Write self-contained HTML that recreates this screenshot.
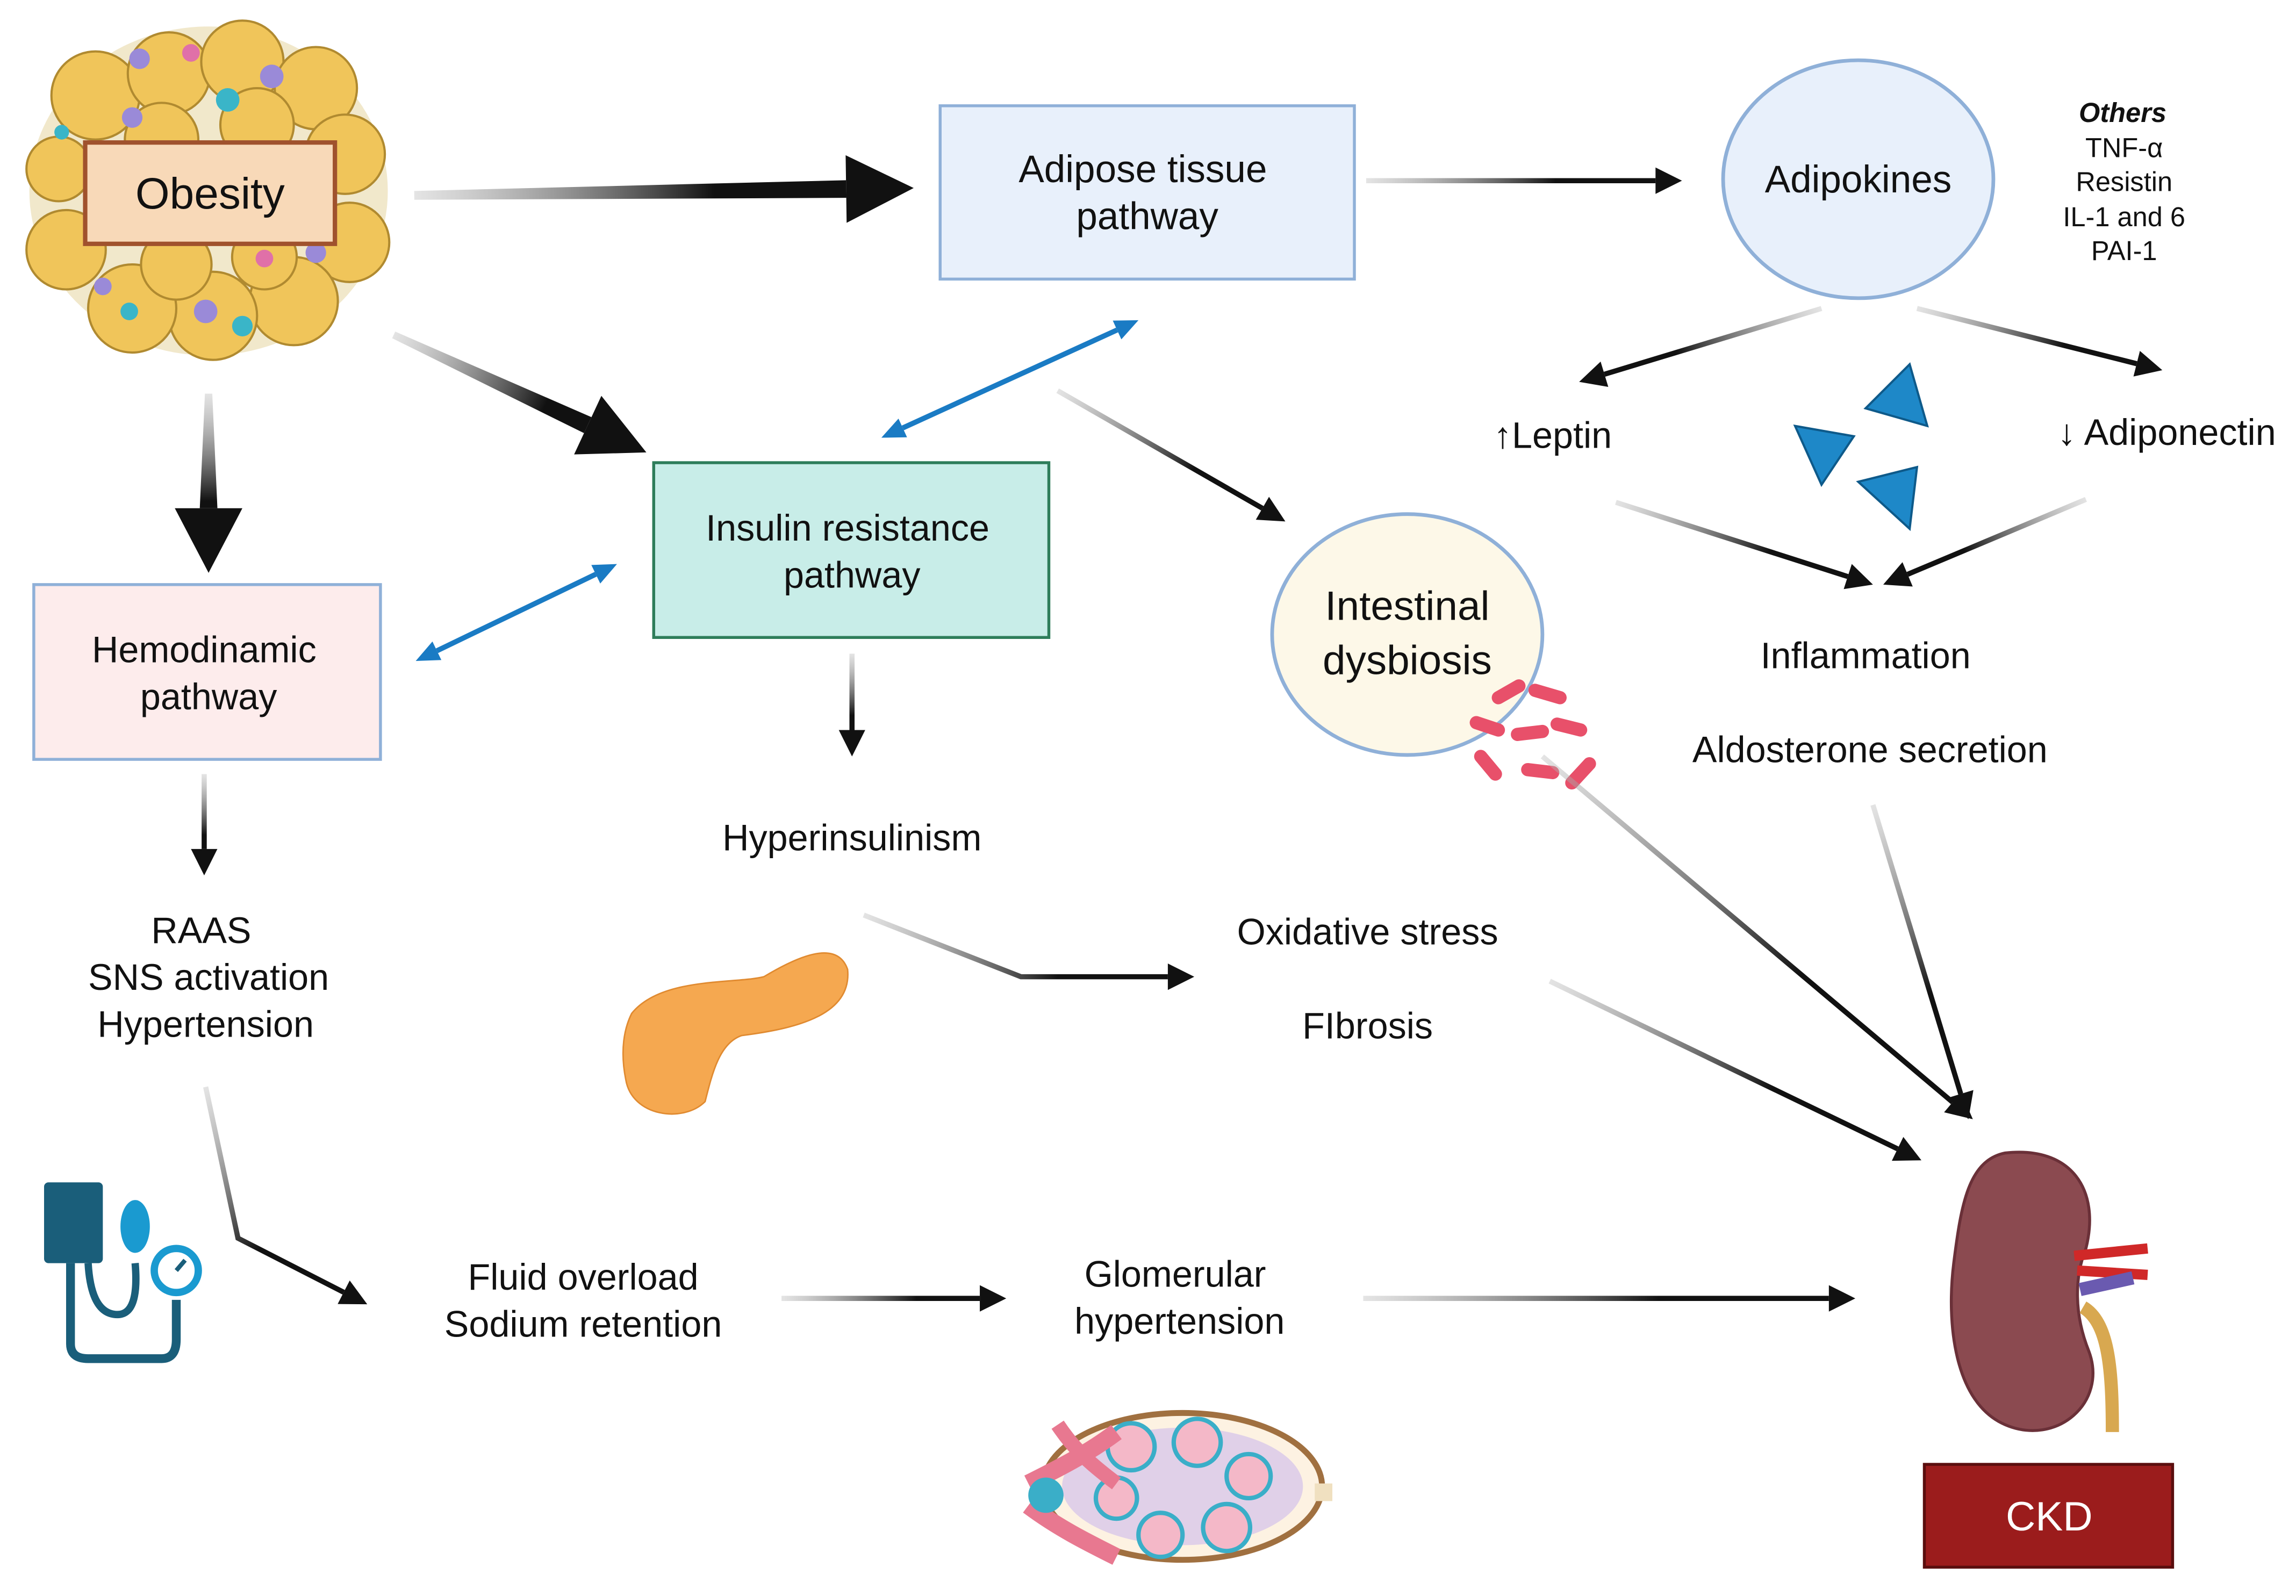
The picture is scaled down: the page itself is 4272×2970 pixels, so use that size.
<!DOCTYPE html>
<html><head><meta charset="utf-8">
<style>
html,body{margin:0;padding:0;background:#fff;}
svg{display:block;}
text{font-family:"Liberation Sans","DejaVu Sans",sans-serif;fill:#111;}
</style></head>
<body>
<svg id="s" width="4272" height="2970" viewBox="0 0 1563 1086.6" xmlns="http://www.w3.org/2000/svg">
<defs id="d"></defs>
<rect width="1563" height="1087" fill="#fff"/>

<!-- Obesity cluster -->
<g>
<ellipse cx="142" cy="130" rx="122" ry="112" fill="#e8d9a8" opacity="0.6"/>
<g fill="#f0c55a" stroke="#b08a30" stroke-width="1.5">
<circle cx="65" cy="65" r="30"/><circle cx="115" cy="50" r="28"/><circle cx="165" cy="42" r="28"/><circle cx="215" cy="60" r="28"/>
<circle cx="235" cy="105" r="27"/><circle cx="238" cy="165" r="27"/><circle cx="200" cy="205" r="30"/><circle cx="145" cy="215" r="30"/>
<circle cx="90" cy="210" r="30"/><circle cx="45" cy="170" r="27"/><circle cx="40" cy="115" r="22"/><circle cx="175" cy="85" r="25"/><circle cx="110" cy="95" r="25"/>
<circle cx="120" cy="180" r="24"/><circle cx="180" cy="175" r="22"/>
</g>
<g fill="#9a8ad8"><circle cx="95" cy="40" r="7"/><circle cx="185" cy="52" r="8"/><circle cx="90" cy="80" r="7"/><circle cx="140" cy="212" r="8"/><circle cx="215" cy="172" r="7"/><circle cx="70" cy="195" r="6"/></g>
<g fill="#3ab5c8"><circle cx="155" cy="68" r="8"/><circle cx="165" cy="222" r="7"/><circle cx="42" cy="90" r="5"/><circle cx="88" cy="212" r="6"/></g>
<g fill="#e070a8"><circle cx="130" cy="36" r="6"/><circle cx="180" cy="176" r="6"/></g>
<rect x="58" y="97" width="170" height="69" fill="#f8d9b8" stroke="#a0522d" stroke-width="3"/>
<text x="143" y="142" font-size="30" text-anchor="middle">Obesity</text>
</g>

<!-- Adipose tissue -->
<rect x="640" y="72" width="282" height="118" fill="#e8f0fb" stroke="#8fb0d8" stroke-width="2"/>
<text x="778" y="124" font-size="26" text-anchor="middle">Adipose tissue</text>
<text x="781" y="156" font-size="26" text-anchor="middle">pathway</text>

<!-- Adipokines -->
<ellipse cx="1265" cy="122" rx="92" ry="81" fill="#e8f0fb" stroke="#8fb0d8" stroke-width="2.5"/>
<text x="1265" y="131" font-size="26" text-anchor="middle">Adipokines</text>
<g font-size="18.5" text-anchor="middle">
<text x="1445" y="83" font-weight="bold" font-style="italic">Others</text>
<text x="1446" y="107">TNF-α</text>
<text x="1446" y="130">Resistin</text>
<text x="1446" y="154">IL-1 and 6</text>
<text x="1446" y="177">PAI-1</text>
</g>

<!-- Insulin resistance -->
<rect x="445" y="315" width="269" height="119" fill="#c8ede8" stroke="#2e7d5a" stroke-width="2"/>
<text x="577" y="368" font-size="25" text-anchor="middle">Insulin resistance</text>
<text x="580" y="400" font-size="25" text-anchor="middle">pathway</text>

<!-- Hemodinamic -->
<rect x="23" y="398" width="236" height="119" fill="#fdecec" stroke="#8fb0d8" stroke-width="2"/>
<text x="139" y="451" font-size="25" text-anchor="middle">Hemodinamic</text>
<text x="142" y="483" font-size="25" text-anchor="middle">pathway</text>

<!-- Intestinal dysbiosis -->
<ellipse cx="958" cy="432" rx="92" ry="82" fill="#fdf8e8" stroke="#8fb0d8" stroke-width="2.5"/>
<text x="958" y="422" font-size="28" text-anchor="middle">Intestinal</text>
<text x="958" y="459" font-size="28" text-anchor="middle">dysbiosis</text>
<g stroke="#e8506a" stroke-width="9" stroke-linecap="round">
<line x1="1020" y1="475" x2="1034" y2="467"/><line x1="1045" y1="470" x2="1062" y2="475"/><line x1="1005" y1="492" x2="1020" y2="497"/>
<line x1="1033" y1="500" x2="1050" y2="498"/><line x1="1060" y1="493" x2="1076" y2="497"/><line x1="1008" y1="515" x2="1018" y2="527"/>
<line x1="1040" y1="524" x2="1057" y2="526"/><line x1="1070" y1="533" x2="1082" y2="520"/>
</g>

<!-- Leptin etc -->
<text x="1057" y="305" font-size="25" text-anchor="middle">↑Leptin</text>
<text x="1475" y="303" font-size="25" text-anchor="middle">↓ Adiponectin</text>
<g fill="#1e88c8" stroke="#0e5a8a" stroke-width="1.5">
<polygon points="1270,278 1300,248 1312,290"/>
<polygon points="1222,290 1262,297 1240,330"/>
<polygon points="1265,328 1305,318 1300,360"/>
</g>
<text x="1270" y="455" font-size="25" text-anchor="middle">Inflammation</text>
<text x="1273" y="519" font-size="25" text-anchor="middle">Aldosterone secretion</text>

<text x="580" y="579" font-size="25" text-anchor="middle">Hyperinsulinism</text>
<text x="931" y="643" font-size="25" text-anchor="middle">Oxidative stress</text>
<text x="931" y="707" font-size="25" text-anchor="middle">FIbrosis</text>

<text x="137" y="642" font-size="25" text-anchor="middle">RAAS</text>
<text x="142" y="674" font-size="25" text-anchor="middle">SNS activation</text>
<text x="140" y="706" font-size="25" text-anchor="middle">Hypertension</text>

<text x="397" y="878" font-size="25" text-anchor="middle">Fluid overload</text>
<text x="397" y="910" font-size="25" text-anchor="middle">Sodium retention</text>
<text x="800" y="876" font-size="25" text-anchor="middle">Glomerular</text>
<text x="803" y="908" font-size="25" text-anchor="middle">hypertension</text>

<!-- Pancreas -->
<path d="M430,690 C450,665 500,670 520,665 C545,650 570,640 577,660 C580,690 545,700 505,705 C490,710 485,730 480,750 C465,765 430,760 426,735 C422,715 425,700 430,690 Z" fill="#f5a850" stroke="#e08a30" stroke-width="1"/>

<!-- Blood pressure icon -->
<g>
<rect x="30" y="805" width="40" height="55" rx="3" fill="#1a5e7a"/>
<path d="M48,860 L48,915 Q48,925 60,925 L110,925 Q120,925 120,912 L120,885" fill="none" stroke="#1a5e7a" stroke-width="6"/>
<path d="M60,860 Q62,895 80,895 Q95,895 92,860" fill="none" stroke="#1a5e7a" stroke-width="5"/>
<ellipse cx="92" cy="835" rx="10" ry="18" fill="#1a9ad0"/>
<circle cx="120" cy="865" r="15" fill="#fff" stroke="#1a9ad0" stroke-width="5"/>
<line x1="120" y1="865" x2="126" y2="858" stroke="#1a5e7a" stroke-width="3"/>
</g>

<!-- Glomerulus -->
<g>
<ellipse cx="805" cy="1012" rx="95" ry="50" fill="#fdf2e2" stroke="#a07040" stroke-width="4"/>
<ellipse cx="805" cy="1012" rx="82" ry="40" fill="#e0d0e8"/>
<g fill="#f4b8c8" stroke="#3aaec8" stroke-width="3">
<circle cx="770" cy="985" r="16"/><circle cx="815" cy="982" r="16"/><circle cx="850" cy="1005" r="15"/><circle cx="835" cy="1040" r="16"/><circle cx="790" cy="1045" r="15"/><circle cx="760" cy="1020" r="14"/>
</g>
<path d="M700,1010 C720,1000 740,990 760,975 M700,1025 C720,1040 740,1050 760,1060" stroke="#e87890" stroke-width="12" fill="none"/>
<path d="M720,970 C730,985 740,995 760,1010" stroke="#e87890" stroke-width="10" fill="none"/>
<circle cx="712" cy="1018" r="12" fill="#3aaec8"/>
<rect x="895" y="1010" width="12" height="12" fill="#f0e0c0"/>
</g>

<!-- Kidney -->
<g>
<path d="M1365,785 C1410,780 1430,810 1420,850 C1412,870 1412,895 1422,920 C1435,955 1400,985 1365,970 C1330,955 1325,900 1330,860 C1335,820 1340,790 1365,785 Z" fill="#8b4a50" stroke="#6a3038" stroke-width="2"/>
<path d="M1412,855 L1462,850 M1414,865 L1462,868" stroke="#d02828" stroke-width="7"/>
<path d="M1416,878 L1452,870" stroke="#6a5ab0" stroke-width="9"/>
<path d="M1418,890 C1435,900 1438,930 1438,975" stroke="#d8a850" stroke-width="9" fill="none"/>
</g>

<!-- CKD -->
<rect x="1310" y="997" width="169" height="70" fill="#9b1c1c" stroke="#5a0e0e" stroke-width="2"/>
<text x="1395" y="1042" font-size="28" text-anchor="middle" style="fill:#fff">CKD</text>

<g id="arrows"></g>
</svg>
<script>
const NS="http://www.w3.org/2000/svg";
const defs=document.getElementById('d'), g=document.getElementById('arrows');
let n=0;
function el(t,a){const e=document.createElementNS(NS,t);for(const k in a)e.setAttribute(k,a[k]);return e;}
function grad(x1,y1,x2,y2){const id='g'+(n++);const lg=el('linearGradient',{id,gradientUnits:'userSpaceOnUse',x1,y1,x2,y2});
lg.appendChild(el('stop',{offset:'0','stop-color':'#bbb','stop-opacity':'0.4'}));
lg.appendChild(el('stop',{offset:'0.6','stop-color':'#111'}));
lg.appendChild(el('stop',{offset:'1','stop-color':'#111'}));defs.appendChild(lg);return 'url(#'+id+')';}
function head(x,y,dx,dy,L,W,c){const l=Math.hypot(dx,dy),ux=dx/l,uy=dy/l,bx=x-ux*L,by=y-uy*L;
g.appendChild(el('polygon',{points:`${x},${y} ${bx-uy*W/2},${by+ux*W/2} ${bx+uy*W/2},${by-ux*W/2}`,fill:c}));return [bx,by];}
function arrow(pts,w,L,W){const n2=pts.length;const [x2,y2]=pts[n2-1],[xp,yp]=pts[n2-2];
const [bx,by]=head(x2,y2,x2-xp,y2-yp,L,W,'#111');
const p=pts.slice(0,-1).concat([[bx+(x2-xp)*0.0,by]]);p[p.length-1]=[bx,by];
const fill=grad(pts[0][0],pts[0][1],x2,y2);
g.appendChild(el('polyline',{points:p.map(q=>q.join(',')).join(' '),fill:'none',stroke:fill,'stroke-width':w}));}
function tapered(x1,y1,x2,y2,w0,w1,L,W){const [bx,by]=head(x2,y2,x2-x1,y2-y1,L,W,'#111');
const l=Math.hypot(x2-x1,y2-y1),nx=-(y2-y1)/l,ny=(x2-x1)/l;
g.appendChild(el('polygon',{points:`${x1+nx*w0/2},${y1+ny*w0/2} ${bx+nx*w1/2},${by+ny*w1/2} ${bx-nx*w1/2},${by-ny*w1/2} ${x1-nx*w0/2},${y1-ny*w0/2}`,fill:grad(x1,y1,x2,y2)}));}
function dbl(x1,y1,x2,y2){const c='#1a7bc4';const [ax,ay]=head(x1,y1,x1-x2,y1-y2,16,14,c);const [bx,by]=head(x2,y2,x2-x1,y2-y1,16,14,c);
g.appendChild(el('line',{x1:ax,y1:ay,x2:bx,y2:by,stroke:c,'stroke-width':3.5}));}
tapered(282,133,622,128,6,12,46,46);
tapered(268,228,440,308,5,12,44,44);
tapered(142,268,142,390,5,12,44,46);
arrow([[930,123],[1145,123]],3.5,18,18);
arrow([[1240,210],[1075,260]],3.5,18,18);
arrow([[1305,210],[1472,252]],3.5,18,18);
arrow([[1100,342],[1275,398]],3.5,18,18);
arrow([[1420,340],[1282,398]],3.5,18,18);
arrow([[720,266],[875,355]],3.5,18,18);
arrow([[580,445],[580,515]],3.5,18,18);
arrow([[139,527],[139,596]],3.5,18,18);
arrow([[588,623],[695,665],[813,665]],3.5,18,18);
arrow([[140,740],[162,843],[250,888]],3.5,18,18);
arrow([[532,884],[685,884]],3.5,18,18);
arrow([[928,884],[1263,884]],3.5,18,18);
arrow([[1055,668],[1308,790]],3.5,18,18);
arrow([[1050,515],[1343,762]],3.5,18,18);
arrow([[1275,548],[1340,762]],3.5,18,18);
dbl(600,298,775,218);
dbl(283,450,420,384);
</script>
</body></html>
